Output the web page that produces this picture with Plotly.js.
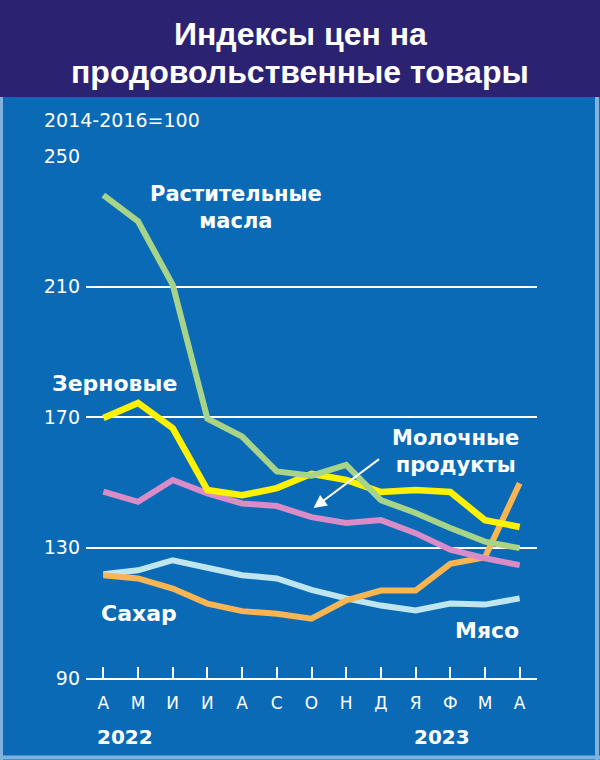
<!DOCTYPE html>
<html>
<head>
<meta charset="utf-8">
<script src="https://cdn.plot.ly/plotly-3.0.1.min.js"></script>
<style>html,body{margin:0;padding:0;background:#0a6ab6;}#chart{width:600px;height:760px;}</style>
</head>
<body>
<div id="chart"></div>
<script>
// ---- data ----
const monthLabels = ['А','М','И','И','А','С','О','Н','Д','Я','Ф','М','А'];
const monthIndex = [0,1,2,3,4,5,6,7,8,9,10,11,12];
const vegOils = [238, 230, 210.5, 169.5, 164, 153.3, 152, 155.3, 144.5, 140.6, 136, 131.8, 129.8];
const cereals = [169.7, 174.3, 166.6, 147.6, 146, 148.2, 152.6, 150.7, 147, 147.6, 147, 138.4, 136.3];
const dairy = [147.1, 144, 150.7, 146.6, 143.5, 142.7, 139.3, 137.5, 138.4, 134.4, 129.3, 126.7, 124.6];
const sugar = [121.5, 120.5, 117.4, 112.8, 110.5, 109.7, 108.2, 113.8, 116.8, 116.8, 125, 127, 149.7];
const meat = [121.8, 123, 126.1, 124, 121.5, 120.5, 117, 114.4, 112.2, 110.7, 112.8, 112.5, 114.4];
const yTicks = [90, 130, 170, 210, 250];
const years = ['2022', '2023'];

// ---- layout helpers (pixel -> paper) ----
const L = 86, R = 537, T = 156, B = 678;
const px = p => (p - L) / (R - L);
const py = p => (B - p) / (B - T);

const BLUE = '#0a6ab6';
const NAVY = '#2b2372';
const FONT = 'DejaVu Sans';
const BOLD = 'DejaVu Sans';
const TBOLD = 'Liberation Sans';

function series(y, color, w) {
  return {x: monthIndex, y: y, type: 'scatter', mode: 'lines',
          line: {color: color, width: w || 6, shape: 'linear'}, hoverinfo: 'skip'};
}

const data = [
  series(meat, '#bfe6f0'),
  series(sugar, '#f9b552'),
  series(dairy, '#d98cc6'),
  series(cereals, '#fff200', 6.5),
  series(vegOils, '#a8d48a')
];

const lblFont = {family: BOLD, size: 22, color: 'white', weight: 'bold'};
const lbl2Font = {family: BOLD, size: 21, color: 'white', weight: 'bold'};
const yrFont = {family: BOLD, size: 20, color: 'white', weight: 'bold'};
const titleFont = {family: TBOLD, size: 32, color: 'white', weight: 'bold'};

function pLabel(text, xp, yp, font) {
  return {xref: 'paper', yref: 'paper', x: px(xp), y: py(yp), xanchor: 'center', yanchor: 'middle',
          text: text, showarrow: false, font: font, align: 'center'};
}

const layout = {
  width: 600, height: 760,
  margin: {l: L, r: 600 - R, t: T, b: 760 - B, pad: 0},
  paper_bgcolor: BLUE, plot_bgcolor: BLUE,
  showlegend: false,
  xaxis: {
    range: [-0.5, 12.5], tickmode: 'array', tickvals: monthIndex, ticktext: monthLabels,
    ticks: 'inside', ticklen: 11, tickwidth: 2, tickcolor: 'white',
    showline: true, linecolor: 'white', linewidth: 2,
    showgrid: false, zeroline: false, fixedrange: true,
    tickfont: {family: FONT, size: 17, color: 'white'}, ticklabelstandoff: 9
  },
  yaxis: {
    range: [90, 250], tickmode: 'array', tickvals: yTicks,
    ticks: '', showgrid: true, gridcolor: 'white', gridwidth: 2,
    showline: false, zeroline: false, fixedrange: true,
    tickfont: {family: FONT, size: 19, color: 'white'}, ticklabelstandoff: 5
  },
  shapes: [
    {type: 'rect', xref: 'paper', yref: 'paper', x0: px(0), x1: px(600), y0: py(97), y1: py(0),
     fillcolor: NAVY, line: {width: 0}, layer: 'below'},
    {type: 'line', xref: 'paper', yref: 'paper', x0: px(1.5), x1: px(1.5), y0: py(97), y1: py(760),
     line: {width: 3, color: '#7fb3de'}, layer: 'below'},
    {type: 'line', xref: 'paper', yref: 'paper', x0: px(597), x1: px(597), y0: py(97), y1: py(760),
     line: {width: 4, color: '#7fb3de'}, layer: 'below'},
    {type: 'line', xref: 'paper', yref: 'paper', x0: px(0), x1: px(600), y0: py(757.5), y1: py(757.5),
     line: {width: 4, color: '#7fb3de'}, layer: 'below'}
  ],
  annotations: [
    pLabel('<b>Индексы цен на</b>', 300, 34, titleFont),
    pLabel('<b>продовольственные товары</b>', 300, 72, titleFont),
    {xref: 'paper', yref: 'paper', x: px(42), y: py(120), xanchor: 'left', yanchor: 'middle',
     text: '2014-2016=100', showarrow: false, font: {family: FONT, size: 19, color: 'white'}},
    pLabel('<b>Растительные<br>масла</b>', 236, 207, lbl2Font),
    pLabel('<b>Зерновые</b>', 114, 383, lblFont),
    pLabel('<b>Молочные<br>продукты</b>', 455, 451, lbl2Font),
    pLabel('<b>Сахар</b>', 139, 613, lblFont),
    pLabel('<b>Мясо</b>', 487, 630, lblFont),
    {xref: 'x', yref: 'y', x: 6.06, y: 142.1, text: '', showarrow: true,
     ax: 67, ay: -50, arrowhead: 2, arrowsize: 1.3, arrowwidth: 2, arrowcolor: 'white', standoff: 0},
    {xref: 'x', yref: 'paper', x: 0.63, y: py(737), text: '<b>' + years[0] + '</b>', showarrow: false,
     font: yrFont, yanchor: 'middle'},
    {xref: 'x', yref: 'paper', x: 9.75, y: py(737), text: '<b>' + years[1] + '</b>', showarrow: false,
     font: yrFont, yanchor: 'middle'}
  ]
};

Plotly.newPlot('chart', data, layout, {displayModeBar: false, staticPlot: true});
</script>
</body>
</html>
